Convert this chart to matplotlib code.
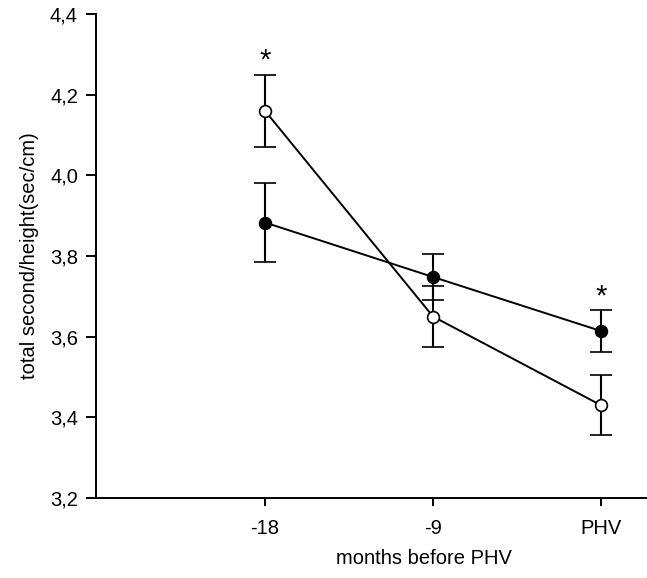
import matplotlib
matplotlib.use("Agg")
import matplotlib.pyplot as plt
from matplotlib.ticker import FuncFormatter

categories = ["-18", "-9", "PHV"]
open_vals = [4.16, 3.65, 3.43]
open_err = [0.09, 0.075, 0.075]
filled_vals = [3.883, 3.748, 3.614]
filled_err = [0.097, 0.056, 0.051]
yticks = [3.2, 3.4, 3.6, 3.8, 4.0, 4.2, 4.4]
star_cats = [0, 2]
star_vals = [4.285, 3.70]

plt.rcParams['font.family'] = ['Liberation Sans', 'DejaVu Sans']

fig = plt.figure(figsize=(6.47, 5.78), dpi=100)
ax = fig.add_axes([96/647, 80/578, 1 - 96/647, 484/578])

x = list(range(len(categories)))

ax.errorbar(x, filled_vals, yerr=filled_err, color='black', lw=1.4,
            marker='o', ms=8.5, mfc='black', mec='black', mew=1.2,
            capsize=8, capthick=1.5, elinewidth=1.5, zorder=3)
ax.errorbar(x, open_vals, yerr=open_err, color='black', lw=1.4,
            marker='o', ms=8.5, mfc='white', mec='black', mew=1.2,
            capsize=8, capthick=1.5, elinewidth=1.5, zorder=4)

for xi, yv in zip(star_cats, star_vals):
    ax.text(xi, yv, "*", ha='center', va='center', fontsize=21)

ax.set_xlim(-1.006, 2.274)
ax.set_ylim(3.2, 4.4)
ax.set_xticks(x)
ax.set_xticklabels(categories)
ax.set_yticks(yticks)
ax.yaxis.set_major_formatter(FuncFormatter(lambda v, p: f"{v:.1f}".replace('.', ',')))

for s in ['top', 'right']:
    ax.spines[s].set_visible(False)
for s in ['left', 'bottom']:
    ax.spines[s].set_linewidth(1.4)

ax.tick_params(axis='y', direction='out', length=7, width=1.4, labelsize=14.5, pad=6)
ax.tick_params(axis='x', direction='out', length=6, width=1.4, labelsize=14.5, pad=9)

ax.set_ylabel("total second/height(sec/cm)", fontsize=14.5)
ax.set_xlabel("months before PHV", fontsize=14.5)
ax.yaxis.set_label_coords(-(96 - 39) / 551, 0.5)
ax.xaxis.set_label_coords((424 - 96) / 551, -0.105)

fig.savefig("out.png", dpi=100)
